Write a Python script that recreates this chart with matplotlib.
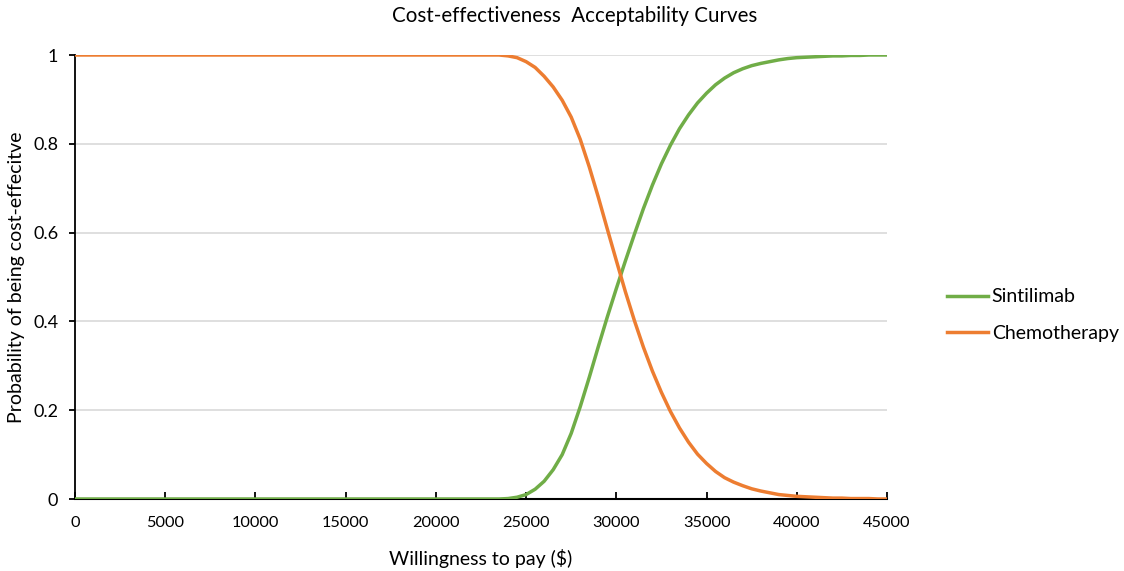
import matplotlib
matplotlib.use("Agg")
import matplotlib.pyplot as plt

# willingness-to-pay grid ($) and CEAC probabilities
wtp = [0, 23500, 24000, 24500, 25000, 25500, 26000, 26500, 27000, 27500,
       28000, 28500, 29000, 29500, 30000, 30500, 31000, 31500, 32000, 32500,
       33000, 33500, 34000, 34500, 35000, 35500, 36000, 36500, 37000, 37500,
       38000, 38500, 39000, 39500, 40000, 40500, 41000, 41500, 42000, 42500,
       43000, 43500, 44000, 44500, 45000]

sintilimab = [0.000, 0.000, 0.001, 0.004, 0.010, 0.022, 0.040, 0.066, 0.100, 0.148,
              0.208, 0.274, 0.343, 0.410, 0.474, 0.536, 0.596, 0.654, 0.707, 0.755,
              0.797, 0.834, 0.865, 0.892, 0.914, 0.933, 0.948, 0.960, 0.969, 0.976,
              0.981, 0.985, 0.989, 0.992, 0.994, 0.995, 0.996, 0.997, 0.998, 0.998,
              0.999, 0.999, 1.000, 1.000, 1.000]

chemotherapy = [1.000, 1.000, 0.998, 0.994, 0.985, 0.972, 0.952, 0.928, 0.898, 0.860,
                0.810, 0.748, 0.680, 0.608, 0.537, 0.467, 0.402, 0.342, 0.288, 0.240,
                0.197, 0.160, 0.128, 0.101, 0.080, 0.062, 0.048, 0.038, 0.030, 0.023,
                0.018, 0.014, 0.010, 0.008, 0.006, 0.005, 0.004, 0.003, 0.002, 0.002,
                0.001, 0.001, 0.001, 0.000, 0.000]

x_ticks = [0, 5000, 10000, 15000, 20000, 25000, 30000, 35000, 40000, 45000]
y_ticks = [0, 0.2, 0.4, 0.6, 0.8, 1]
y_labels = ["0", "0.2", "0.4", "0.6", "0.8", "1"]

plt.rcParams['font.family'] = ['Lato', 'DejaVu Sans']

fig = plt.figure(figsize=(11.24, 5.71), dpi=100)
ax = fig.add_axes([75/1124, 1 - 499/571, (887 - 75)/1124, (499 - 55)/571])

ax.plot(wtp, sintilimab, color='#70AD47', lw=2.5, label='Sintilimab', zorder=3)
ax.plot(wtp, chemotherapy, color='#ED7D31', lw=2.5, label='Chemotherapy', zorder=3)

ax.set_xlim(0, 45000)
ax.set_ylim(0, 1)
ax.set_xticks(x_ticks)
ax.set_xticklabels([str(t) for t in x_ticks], fontsize=11.8)
ax.set_yticks(y_ticks)
ax.set_yticklabels(y_labels, fontsize=13)
ax.tick_params(axis='x', direction='in', length=5, width=1.3, pad=12)
ax.tick_params(axis='y', direction='out', length=4, width=1.3, pad=8)
ax.grid(axis='y', color='#d9d9d9', lw=1.2, zorder=0)
ax.set_axisbelow(True)
for s in ['top', 'right']:
    ax.spines[s].set_visible(False)
ax.spines['left'].set_linewidth(1.3)
ax.spines['bottom'].set_linewidth(1.5)

ax.set_xlabel('Willingness to pay ($)', fontsize=14, labelpad=14)
ax.set_ylabel('Probability of being cost-effecitve', fontsize=14, labelpad=6)
fig.text(575/1124, 1 - 16/571, 'Cost-effectiveness  Acceptability Curves',
         ha='center', va='center', fontsize=14.8)

ax.legend(loc='center left', frameon=False,
          fontsize=14, handlelength=2.1, handletextpad=0.2, labelspacing=1.0,
          borderaxespad=0, borderpad=0)
ax.get_legend().set_bbox_to_anchor((1.0739, 0.414), transform=ax.transAxes)

fig.savefig('out.png', dpi=100)
